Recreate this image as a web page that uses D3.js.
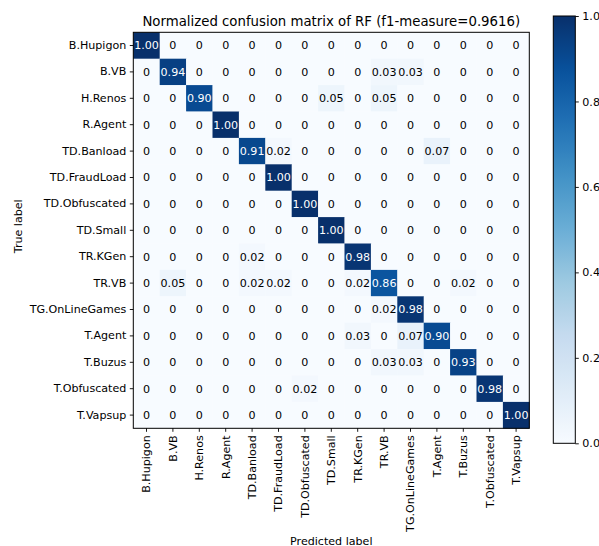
<!DOCTYPE html>
<html>
<head>
<meta charset="utf-8">
<script src="https://cdn.jsdelivr.net/npm/d3@7"></script>
<style>
  html, body { margin: 0; padding: 0; background: #fff; }
  svg { display: block; font-family: "DejaVu Sans", sans-serif; }
</style>
</head>
<body>
<svg id="chart" width="599" height="546"></svg>
<script>
// Class names (true and predicted share the same order)
const classes = [
  "B.Hupigon", "B.VB", "H.Renos", "R.Agent", "TD.Banload", "TD.FraudLoad",
  "TD.Obfuscated", "TD.Small", "TR.KGen", "TR.VB", "TG.OnLineGames",
  "T.Agent", "T.Buzus", "T.Obfuscated", "T.Vapsup"
];

// Row-normalized confusion matrix, rows = true label, columns = predicted label
const matrix = [
  [1.00, 0, 0, 0, 0, 0, 0, 0, 0, 0, 0, 0, 0, 0, 0],
  [0, 0.94, 0, 0, 0, 0, 0, 0, 0, 0.03, 0.03, 0, 0, 0, 0],
  [0, 0, 0.90, 0, 0, 0, 0, 0.05, 0, 0.05, 0, 0, 0, 0, 0],
  [0, 0, 0, 1.00, 0, 0, 0, 0, 0, 0, 0, 0, 0, 0, 0],
  [0, 0, 0, 0, 0.91, 0.02, 0, 0, 0, 0, 0, 0.07, 0, 0, 0],
  [0, 0, 0, 0, 0, 1.00, 0, 0, 0, 0, 0, 0, 0, 0, 0],
  [0, 0, 0, 0, 0, 0, 1.00, 0, 0, 0, 0, 0, 0, 0, 0],
  [0, 0, 0, 0, 0, 0, 0, 1.00, 0, 0, 0, 0, 0, 0, 0],
  [0, 0, 0, 0, 0.02, 0, 0, 0, 0.98, 0, 0, 0, 0, 0, 0],
  [0, 0.05, 0, 0, 0.02, 0.02, 0, 0, 0.02, 0.86, 0, 0, 0.02, 0, 0],
  [0, 0, 0, 0, 0, 0, 0, 0, 0, 0.02, 0.98, 0, 0, 0, 0],
  [0, 0, 0, 0, 0, 0, 0, 0, 0.03, 0, 0.07, 0.90, 0, 0, 0],
  [0, 0, 0, 0, 0, 0, 0, 0, 0, 0.03, 0.03, 0, 0.93, 0, 0],
  [0, 0, 0, 0, 0, 0, 0.02, 0, 0, 0, 0, 0, 0, 0.98, 0],
  [0, 0, 0, 0, 0, 0, 0, 0, 0, 0, 0, 0, 0, 0, 1.00]
];

const colorbarTicks = [0.0, 0.2, 0.4, 0.6, 0.8, 1.0];
const titleText = "Normalized confusion matrix of RF (f1-measure=0.9616)";
const xLabelText = "Predicted label";
const yLabelText = "True label";

// Blues palette, interpolated linearly between its nine anchor colours
const bluesAnchors = ["#f7fbff", "#deebf7", "#c6dbef", "#9ecae1", "#6baed6",
                      "#4292c6", "#2171b5", "#08519c", "#08306b"];

const svg = d3.select("#chart");
const fontSize = 11.1;

const plot = { left: 133.3, top: 32.3, size: 396 };
const x = d3.scaleBand().domain(classes).range([plot.left, plot.left + plot.size]).padding(0);
const y = d3.scaleBand().domain(classes).range([plot.top, plot.top + plot.size]).padding(0);

const color = d3.scaleLinear()
  .domain(d3.range(bluesAnchors.length).map(i => i / (bluesAnchors.length - 1)))
  .range(bluesAnchors)
  .interpolate(d3.interpolateRgb)
  .clamp(true);

const cells = [];
matrix.forEach((row, i) => row.forEach((v, j) => cells.push({ t: classes[i], p: classes[j], v })));

const maxV = d3.max(cells, d => d.v);
const thresh = maxV / 2;

// Heatmap cells
svg.append("g").selectAll("rect").data(cells).join("rect")
  .attr("x", d => x(d.p))
  .attr("y", d => y(d.t))
  .attr("width", x.bandwidth() + 0.3)
  .attr("height", y.bandwidth() + 0.3)
  .attr("fill", d => color(d.v));

// Cell value labels
svg.append("g").selectAll("text").data(cells).join("text")
  .attr("x", d => x(d.p) + x.bandwidth() / 2)
  .attr("y", d => y(d.t) + y.bandwidth() / 2)
  .attr("text-anchor", "middle")
  .attr("dy", "0.36em")
  .attr("font-size", fontSize)
  .attr("fill", d => d.v > thresh ? "#fff" : "#000")
  .text(d => d.v === 0 ? "0" : d.v.toFixed(2));

// Axes
const tickLen = 3.5;
const xAxis = d3.axisBottom(x).tickSize(tickLen).tickPadding(3.5).tickSizeOuter(0);
const yAxis = d3.axisLeft(y).tickSize(tickLen).tickPadding(3.5).tickSizeOuter(0);

const gx = svg.append("g")
  .attr("transform", `translate(0,${plot.top + plot.size})`)
  .call(xAxis);
gx.select(".domain").remove();
gx.selectAll("line").attr("stroke", "#000").attr("stroke-width", 0.9);
gx.selectAll("text")
  .attr("font-size", fontSize)
  .attr("font-family", "DejaVu Sans")
  .attr("fill", "#000")
  .attr("text-anchor", "end")
  .attr("transform", "rotate(-90)")
  .attr("x", -7)
  .attr("y", 0)
  .attr("dy", "0.35em");

const gy = svg.append("g")
  .attr("transform", `translate(${plot.left},0)`)
  .call(yAxis);
gy.select(".domain").remove();
gy.selectAll("line").attr("stroke", "#000").attr("stroke-width", 0.9);
gy.selectAll("text")
  .attr("font-size", fontSize)
  .attr("font-family", "DejaVu Sans")
  .attr("fill", "#000");

// Plot frame
svg.append("rect")
  .attr("x", plot.left).attr("y", plot.top)
  .attr("width", plot.size).attr("height", plot.size)
  .attr("fill", "none").attr("stroke", "#000").attr("stroke-width", 1);

// Title and axis labels
svg.append("text")
  .attr("x", plot.left + plot.size / 2).attr("y", 25.5)
  .attr("text-anchor", "middle")
  .attr("font-size", 13.3)
  .text(titleText);

svg.append("text")
  .attr("x", plot.left + plot.size / 2).attr("y", 544.5)
  .attr("text-anchor", "middle")
  .attr("font-size", fontSize)
  .text(xLabelText);

svg.append("text")
  .attr("transform", `translate(22,${plot.top + plot.size / 2 - 4}) rotate(-90)`)
  .attr("text-anchor", "middle")
  .attr("font-size", fontSize)
  .text(yLabelText);

// Colorbar
const cb = { left: 553.3, top: 16, width: 22, height: 427.3 };
const cbScale = d3.scaleLinear().domain([0, 1]).range([cb.top + cb.height, cb.top]);

const grad = svg.append("defs").append("linearGradient")
  .attr("id", "cbGrad")
  .attr("x1", 0).attr("y1", 1).attr("x2", 0).attr("y2", 0);
d3.range(0, 1.0001, 0.02).forEach(t => {
  grad.append("stop").attr("offset", t).attr("stop-color", color(t));
});

svg.append("rect")
  .attr("x", cb.left).attr("y", cb.top)
  .attr("width", cb.width).attr("height", cb.height)
  .attr("fill", "url(#cbGrad)")
  .attr("stroke", "#000").attr("stroke-width", 1);

const cbAxis = d3.axisRight(cbScale)
  .tickValues(colorbarTicks)
  .tickFormat(d3.format(".1f"))
  .tickSize(tickLen).tickPadding(3.5).tickSizeOuter(0);

const gcb = svg.append("g")
  .attr("transform", `translate(${cb.left + cb.width},0)`)
  .call(cbAxis);
gcb.select(".domain").remove();
gcb.selectAll("line").attr("stroke", "#000").attr("stroke-width", 0.9);
gcb.selectAll("text")
  .attr("font-size", fontSize)
  .attr("font-family", "DejaVu Sans")
  .attr("fill", "#000");
</script>
</body>
</html>
